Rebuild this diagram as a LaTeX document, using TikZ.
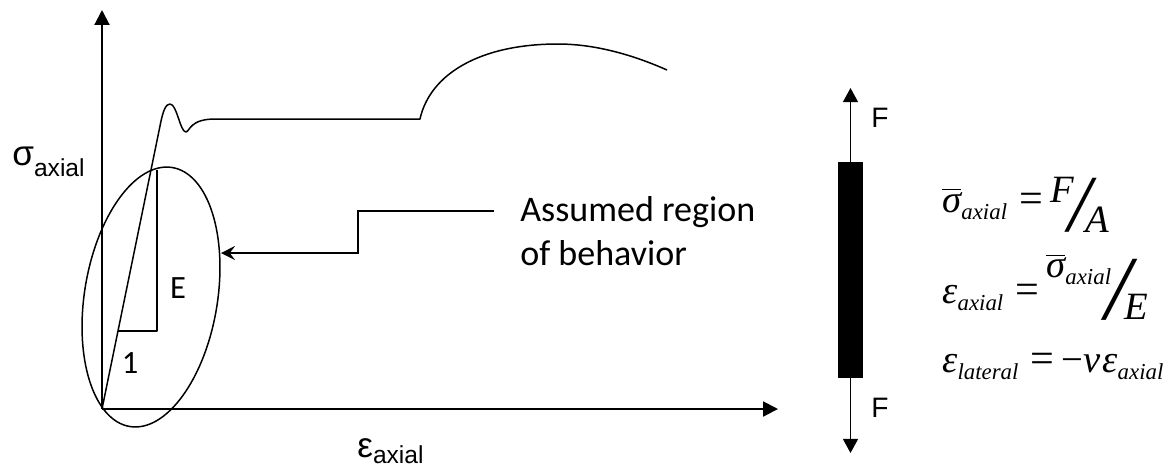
\documentclass[tikz,border=0pt]{standalone}
\usepackage{fontspec}
\usepackage{tikz}
\usetikzlibrary{arrows.meta,positioning,shapes.geometric}
\setmainfont{Liberation Sans}
\newfontfamily\calfont{Carlito}
\newfontfamily\eqfont{Liberation Serif}
\newcommand{\eqsub}[1]{\raisebox{-4pt}{\fontsize{13}{13}\selectfont #1}}
\newcommand{\eqbar}[1]{$\overline{\hbox{#1}}$}
\newcommand{\eqslash}[2]{\raisebox{#2}{\fontsize{#1}{#1}\selectfont /}}
\newcommand{\eqeq}{\kern7pt{\upshape\fontsize{24}{24}\selectfont =}\kern4pt}

\begin{document}
\begin{tikzpicture}[x=0.02cm,y=-0.02cm,>=Latex, axis/.style={line width=1.2pt,-{Triangle[length=8.5pt,width=8.5pt]}}, curve/.style={line width=0.85pt,line join=round}, conn/.style={line width=0.85pt,-{Stealth[length=8pt,width=8pt,inset=3pt]}}, force/.style={line width=0.85pt,-{Triangle[length=8pt,width=8.5pt]}}, lab/.style={font=\calfont\fontsize{18.5}{18.5}\selectfont}, ax/.style={anchor=base west,inner sep=0,font=\fontsize{20}{20}\selectfont}, eq/.style={anchor=base west,inner sep=0,font=\eqfont\itshape\fontsize{22}{22}\selectfont}]
  \useasboundingbox (0,0) rectangle (1169,468);
  % axes
  \coordinate (O) at (102,409);
  \coordinate (ytop) at (102,10);
  \coordinate (xend) at (778,409);
  \draw[axis] (O)--(ytop);
  \draw[axis] (O)--(xend);
  \node[ax] (sig) at (12,165) {σ\raisebox{-6.5pt}{\fontsize{14}{14}\selectfont axial}};
  \node[ax] (eps) at (357,457) {ε\raisebox{-3.5pt}{\fontsize{14}{14}\selectfont axial}};
  % stress-strain curve
  \draw[curve] (O) -- (160,126) .. controls (163,110) and (166,104) .. (170,104) .. controls (177,104) and (180,132) .. (186,132) .. controls (190,131) and (190,119) .. (215,119) -- (420,119) .. controls (430,74) and (480,44) .. (558,44) .. controls (600,44) and (640,58) .. (667,70);
  % slope triangle
  \coordinate (tA) at (118,331);
  \coordinate (tB) at (157,331);
  \coordinate (tC) at (157,170);
  \draw[curve] (tA) -- (tB) -- (tC);
  \node[lab] (E) at (178,288) {E};
  \node[lab] (one) at (130,363) {1};
  % region of interest
  \node[draw,ellipse,line width=0.85pt,inner sep=0,minimum width=2.66cm,minimum height=5.25cm,rotate=-9.3] (region) at (151,297) {};
  \coordinate (hit) at (221,253);
  \node[anchor=base west,inner sep=0,align=left,font=\calfont\fontsize{20.5}{24.5}\selectfont] (note) at (520,265) {Assumed region\\of behavior};
  \coordinate (lead) at (494,211);
  \draw[conn] (lead) -- (358,211) |- (hit);
  % bar under load
  \node[fill=black,inner sep=0,minimum width=0.5cm,minimum height=4.32cm] (bar) at (850.5,270) {};
  \coordinate (ftop) at (850.5,88);
  \coordinate (fbot) at (850.5,453);
  \draw[force] (bar.north) -- (ftop);
  \draw[force] (bar.south) -- (fbot);
  \node[anchor=base,inner sep=0] (F1) at (880,127) {\fontsize{16}{16}\selectfont F};
  \node[anchor=base,inner sep=0] (F2) at (880,417) {\fontsize{16}{16}\selectfont F};
  % relations
  \node[eq] (eq1) at (942,212) {\eqbar{σ}\eqsub{axial}\eqeq\raisebox{5.5pt}{F}\kern-3pt\eqslash{46}{-11pt}\kern-3pt\raisebox{-11.5pt}{A}};
  \node[eq] (eq2) at (942,303) {ε\eqsub{axial}\eqeq\raisebox{14.5pt}{\eqbar{σ}\eqsub{axial}}\kern-3pt\eqslash{52}{-9.5pt}\kern-4pt\raisebox{-9.5pt}{E}};
  \node[eq] (eq3) at (942,372) {ε\eqsub{lateral}\eqeq{\upshape −}ν\kern0.05em ε\eqsub{axial}};
\end{tikzpicture}
\end{document}
